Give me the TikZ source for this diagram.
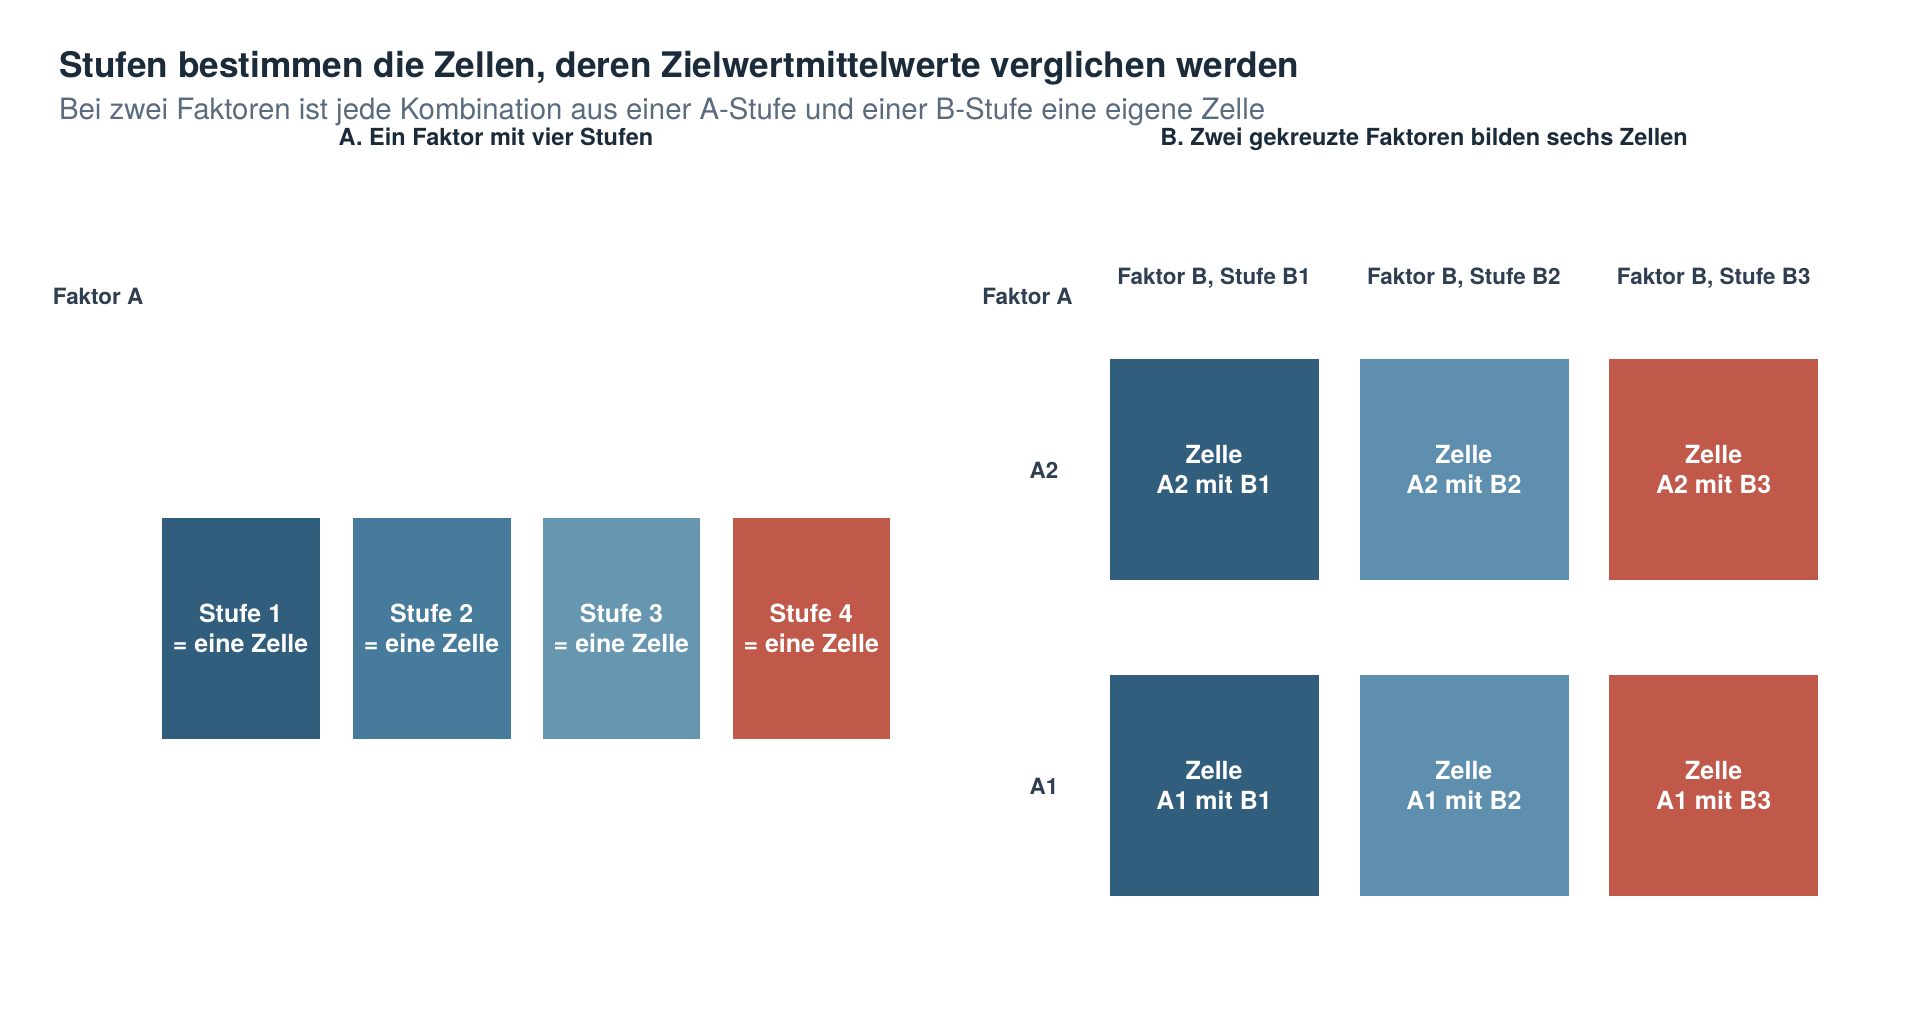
\documentclass[tikz,border=0pt]{standalone}
\usepackage{fontspec}
\setmainfont{TeX Gyre Heros}
\usetikzlibrary{positioning}

\definecolor{titleInk}{HTML}{1C2B3A}
\definecolor{subInk}{HTML}{5B6B7F}
\definecolor{labelInk}{HTML}{2F3E50}
\definecolor{cellDark}{HTML}{325E7D}
\definecolor{cellMid}{HTML}{477B9B}
\definecolor{cellLight}{HTML}{6696B0}
\definecolor{cellBlue}{HTML}{5E8FAE}
\definecolor{cellRed}{HTML}{C0594A}

\begin{document}
\begin{tikzpicture}
[x=1pt,y=-1pt,
  titleDecorate/.style={anchor=base west,inner sep=0pt,text=titleInk,
    font=\fontsize{28.75}{33}\selectfont\bfseries},
  subDecorate/.style={anchor=base west,inner sep=0pt,text=subInk,
    font=\fontsize{24}{28}\selectfont},
  panelDecorate/.style={anchor=base,inner sep=0pt,text=titleInk,
    font=\fontsize{19.2}{23}\selectfont\bfseries},
  labelDecorate/.style={inner sep=0pt,text=labelInk,
    font=\fontsize{18.3}{22}\selectfont\bfseries},
  cellDecorate/.style={shape=rectangle,draw=white,line width=0.6pt,
    text=white,align=center,inner sep=0pt,
    font=\fontsize{20.4}{24}\selectfont\bfseries}]
\useasboundingbox[fill=white] (0,0) rectangle (1568,846);
%% titles
\node (title) at (48,63.5) [titleDecorate]
  {Stufen bestimmen die Zellen, deren Zielwertmittelwerte verglichen werden};
\node (subtitle) at (48,97.5) [subDecorate]
  {Bei zwei Faktoren ist jede Kombination aus einer A-Stufe und einer B-Stufe eine eigene Zelle};
\node (panelA) at (405,118.5) [panelDecorate] {A. Ein Faktor mit vier Stufen};
\node (panelB) at (1163,118.5) [panelDecorate] {B. Zwei gekreuzte Faktoren bilden sechs Zellen};
%% panel A: one factor
\node (faktorA) at (43,249) [labelDecorate,anchor=base west] {Faktor A};
\foreach \nodename/\x/\col in {
  1/196.5/cellDark, 2/352.5/cellMid, 3/507.5/cellLight, 4/662.5/cellRed}
{
  \node (stufe\nodename) at (\x,513) [cellDecorate,fill=\col,
    minimum width=129.5pt,minimum height=181pt] {Stufe \nodename\\= eine Zelle};
}
%% panel B: two crossed factors
\node (faktorAB) at (802,249) [labelDecorate,anchor=base west] {Faktor A};
\foreach \nodename/\x/\col in {
  B1/991.5/cellDark, B2/1195.5/cellBlue, B3/1399.5/cellRed}
{
  \node (head\nodename) at (\x,232) [labelDecorate,anchor=base]
    {Faktor B, Stufe \nodename};
  \foreach \rowname/\y in {A2/383.5, A1/641.5}
  {
    \node (\rowname\nodename) at (\x,\y) [cellDecorate,fill=\col,
      minimum width=171.5pt,minimum height=181.5pt] {Zelle\\\rowname{} mit \nodename};
  }
}
\node (rowA2) at (852.5,384.5) [labelDecorate] {A2};
\node (rowA1) at (852.5,642.5) [labelDecorate] {A1};
\end{tikzpicture}
\end{document}
